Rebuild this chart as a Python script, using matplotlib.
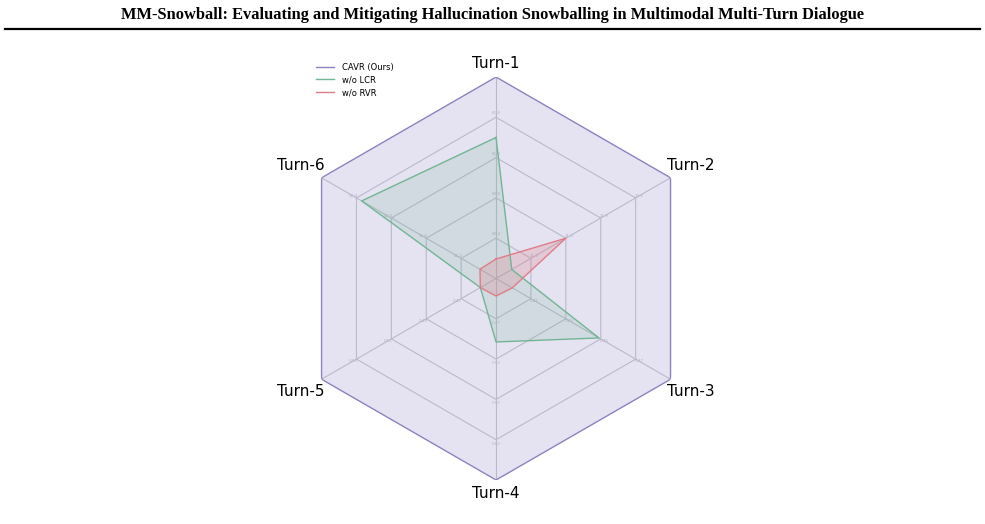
import numpy as np
import matplotlib.pyplot as plt
from matplotlib.lines import Line2D

# radar data (normalised to the radius of each axis)
turns = ['Turn-1', 'Turn-2', 'Turn-3', 'Turn-4', 'Turn-5', 'Turn-6']
cavr = [1.0, 1.0, 1.0, 1.0, 1.0, 1.0]
wo_lcr = [0.70, 0.09, 0.59, 0.315, 0.09, 0.77]
wo_rvr = [0.097, 0.40, 0.093, 0.087, 0.09, 0.092]

# tiny per-axis scale labels (rings 1..4)
axis_ticks = [
    ['60.4', '60.8', '61.0', '61.4'],
    ['11.2', '11.5', '11.9', '12.2'],
    ['0.41', '0.43', '0.45', '0.47'],
    ['0.47', '0.52', '0.57', '0.62'],
    ['0.47', '0.49', '0.51', '0.53'],
    ['51.2', '51.6', '52.0', '52.4'],
]

series = [('CAVR (Ours)', cavr, '#8a83c0', 0.22),
          ('w/o LCR', wo_lcr, '#72b594', 0.18),
          ('w/o RVR', wo_rvr, '#e07c88', 0.25)]

n = len(turns)
angles = np.arange(n) * 2 * np.pi / n
closed = np.append(angles, angles[0])

fig = plt.figure(figsize=(9.85, 5.24), dpi=100)

# title and rule
fig.text(0.4995, 0.972, 'MM-Snowball: Evaluating and Mitigating Hallucination Snowballing in Multimodal Multi-Turn Dialogue',
         ha='center', va='center', fontsize=11.8, fontweight='bold', family='Liberation Serif')
fig.add_artist(Line2D([0.005, 0.995], [0.944, 0.944], color='black', lw=1.6, transform=fig.transFigure))

ax = fig.add_axes([0.299, 0.084, 0.4092, 0.769], projection='polar')
ax.set_theta_zero_location('N')
ax.set_theta_direction(-1)
ax.set_ylim(0, 1)
ax.grid(False)
ax.spines['polar'].set_visible(False)
ax.set_xticks([])
ax.set_yticks([])
ax.patch.set_alpha(0)

# hexagon grid
for r in [0.2, 0.4, 0.6, 0.8]:
    ax.plot(closed, [r] * (n + 1), color='#c8c8ce', lw=0.8, zorder=1)
for a in angles:
    ax.plot([a, a], [0, 1], color='#c8c8ce', lw=0.8, zorder=1)

# axis scale labels
for a, labs in zip(angles, axis_ticks):
    for k, lab in enumerate(labs):
        ax.text(a, 0.2 * (k + 1) + 0.02, lab, fontsize=3, color='#bcbcc4',
                ha='center', va='center', zorder=2)

for name, vals, col, al in series:
    v = np.append(vals, vals[0])
    ax.fill(closed, v, color=col, alpha=al, lw=0, zorder=3)
    ax.plot(closed, v, color=col, lw=1.0, zorder=4)

# axis names
for a, t in zip(angles, turns):
    r = 1.065 + 0.06 * abs(np.sin(a))
    ax.text(a, r, t, fontsize=11, ha='center', va='center', family='DejaVu Sans')

handles = [Line2D([], [], color=c, lw=1.0) for _, _, c, _ in series]
fig.legend(handles, [s[0] for s in series], loc='upper left', bbox_to_anchor=(0.313, 0.895),
           frameon=False, fontsize=6, handlelength=2.2, handletextpad=0.9, labelspacing=0.45)

fig.savefig('out.png', dpi=100)
